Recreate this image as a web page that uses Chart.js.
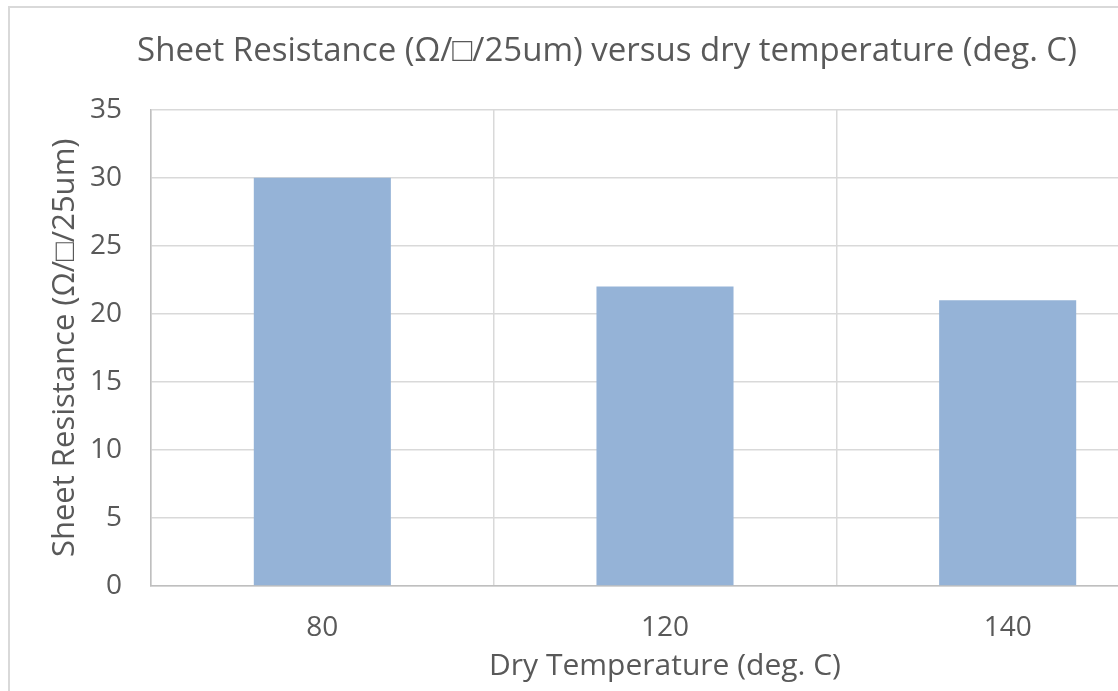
<!DOCTYPE html>
<html>
<head>
<meta charset="utf-8">
<script src="https://cdn.jsdelivr.net/npm/chart.js@4"></script>
<style>
  html, body { margin: 0; padding: 0; background: #fff; overflow: hidden; }
  #frame {
    position: absolute; left: 8px; top: 6px;
    width: 1226px; height: 692px;
    border: 2px solid #d9d9d9; background: #fff;
  }
</style>
</head>
<body>
<div id="frame"><canvas id="chart"></canvas></div>
<script>
// ====== Data ======
const categories = ['80', '120', '140'];
const resistance = [30, 22, 21];
const yTicks = [0, 5, 10, 15, 20, 25, 30, 35];

const titleText = 'Sheet Resistance (\u03A9/\u25A1/25um) versus dry temperature (deg. C)';
const yTitle = 'Sheet Resistance (\u03A9/\u25A1/25um)';
const xTitle = 'Dry Temperature (deg. C)';

const textColor = '#595959';
const fontFamily = '"Open Sans", "Liberation Sans", sans-serif';

// ====== Chart ======
const ctx = document.getElementById('chart').getContext('2d');
new Chart(ctx, {
    type: 'bar',
    data: {
        labels: categories,
        datasets: [{
            label: 'Sheet Resistance',
            data: resistance,
            backgroundColor: '#95b3d7',
            borderWidth: 0,
            barPercentage: 1,
            categoryPercentage: 0.4
        }]
    },
    options: {
        responsive: true,
        maintainAspectRatio: false,
        animation: false,
        layout: { padding: { left: 25, right: 57, top: 0, bottom: 0 } },
        plugins: {
            legend: { display: false },
            tooltip: { enabled: false },
            title: {
                display: true,
                text: titleText,
                color: textColor,
                font: { family: fontFamily, size: 33, weight: 'normal' },
                padding: { top: 24, bottom: 38 }
            }
        },
        scales: {
            x: {
                afterFit: axis => { axis.height = 114; },
                grid: { color: '#d9d9d9', lineWidth: 1.5, drawTicks: false, offset: true },
                border: { color: '#bfbfbf', width: 1.5 },
                ticks: { color: textColor, font: { family: fontFamily, size: 28 }, padding: 25 },
                title: {
                    display: true, text: xTitle, color: textColor,
                    font: { family: fontFamily, size: 30 },
                    padding: { top: 4, bottom: 16 }
                }
            },
            y: {
                min: 0,
                max: 35,
                afterBuildTicks: axis => { axis.ticks = yTicks.map(v => ({ value: v })); },
                afterFit: axis => { axis.width = 116; },
                grid: { color: '#d9d9d9', lineWidth: 1.5, drawTicks: false },
                border: { color: '#bfbfbf', width: 1.5 },
                ticks: { color: textColor, font: { family: fontFamily, size: 28 }, padding: 29 },
                title: {
                    display: true, text: yTitle, color: textColor,
                    font: { family: fontFamily, size: 31 },
                    padding: { top: 12, bottom: 4 }
                }
            }
        }
    }
});
</script>
</body>
</html>
